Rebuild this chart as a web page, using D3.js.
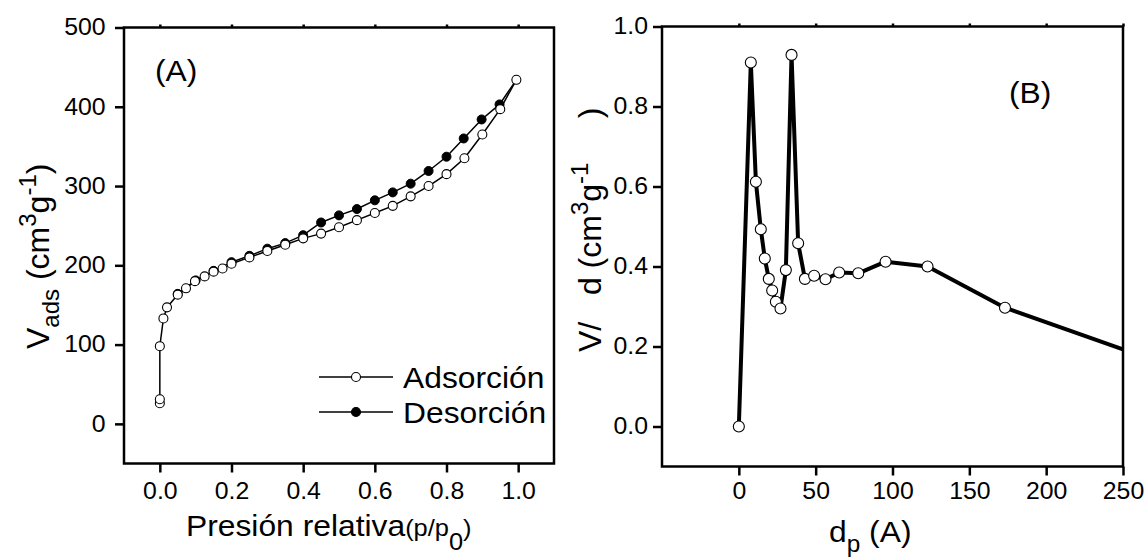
<!DOCTYPE html>
<html>
<head>
<meta charset="utf-8">
<script src="https://cdn.jsdelivr.net/npm/d3@7"></script>
<style>
  body { margin: 0; background: #fff; }
  text { font-family: Arial, "Liberation Sans", sans-serif; fill: #000; }
</style>
</head>
<body>
<svg id="chart" width="1146" height="557"></svg>
<script>
// (A) isoterma: presion relativa vs volumen adsorbido
const presAds = [0, 0, 0, 0.01, 0.02, 0.05, 0.073, 0.098, 0.125, 0.15, 0.175, 0.2, 0.25, 0.3, 0.35, 0.4, 0.45, 0.5, 0.55, 0.6, 0.65, 0.7, 0.75, 0.8, 0.85, 0.9, 0.95, 0.995]
const volAds = [26, 31, 98, 133, 147, 163, 171, 180, 186, 192, 196, 202, 210, 218, 226, 234, 240, 248, 257, 266, 275, 287, 300, 315, 335, 365, 397, 434]
const presDes = [0.995, 0.948, 0.898, 0.848, 0.8, 0.75, 0.7, 0.65, 0.6, 0.55, 0.5, 0.45, 0.4, 0.35, 0.3, 0.25, 0.2, 0.15, 0.1, 0.05]
const volDes = [434, 403, 384, 360, 337, 319, 303, 292, 282, 271, 263, 254, 238, 228, 221, 212, 204, 193, 181, 164]

// (B) distribucion de poros
const poreD = [0, 7.8, 11.1, 14.3, 16.9, 19.5, 21.7, 24.1, 27.1, 30.6, 34.3, 38.6, 43, 49, 56.4, 65.3, 77.7, 95.5, 122.8, 173.2, 250]
const poreV = [0, 0.91, 0.612, 0.493, 0.42, 0.369, 0.34, 0.312, 0.295, 0.391, 0.929, 0.458, 0.369, 0.377, 0.368, 0.385, 0.383, 0.412, 0.40, 0.297, 0.193]

const ticksAx = [0, 0.2, 0.4, 0.6, 0.8, 1.0]
const ticksAy = [0, 100, 200, 300, 400, 500]
const ticksBx = [0, 50, 100, 150, 200, 250]
const ticksBy = [0, 0.2, 0.4, 0.6, 0.8, 1.0]

const svg = d3.select('#chart')
const stretch = 1.06

// escalas
const xA = d3.scaleLinear().domain([-0.1, 1.1]).range([124, 554])
const yA = d3.scaleLinear().domain([-50, 500]).range([463.5, 27.5])
const xB = d3.scaleLinear().domain([-50, 250]).range([662, 1123])
const yB = d3.scaleLinear().domain([-0.1, 1.0]).range([466.5, 26.5])

function drawFrame(x, y, xt, yt, xfmt, yfmt, xPad, yPad) {
    const [x0, x1] = x.range()
    const [y0, y1] = y.range()
    let g = svg.append('g')
    // eje x abajo
    g.append('g').attr('transform', `translate(0,${y0})`)
        .call(d3.axisBottom(x).tickValues(xt).tickFormat(xfmt).tickSize(9).tickSizeOuter(0).tickPadding(xPad))
    // pequeños ticks arriba
    g.append('g').attr('transform', `translate(0,${y1})`)
        .call(d3.axisTop(x).tickValues(xt).tickFormat('').tickSize(3).tickSizeOuter(0))
    g.append('g').attr('transform', `translate(${x0},0)`)
        .call(d3.axisLeft(y).tickValues(yt).tickFormat(yfmt).tickSize(9).tickSizeOuter(0).tickPadding(yPad))
    g.selectAll('.domain').remove()
    g.selectAll('.tick line').attr('stroke', '#000').attr('stroke-width', 2.5)
    g.selectAll('.tick text').attr('font-size', 23).attr('font-family', 'Arial, "Liberation Sans", sans-serif')
        .attr('fill', '#000').attr('transform', `scale(1.08,1)`)
    g.append('rect')
        .attr('x', x0).attr('y', y1)
        .attr('width', x1 - x0).attr('height', y0 - y1)
        .attr('fill', 'none').attr('stroke', '#000').attr('stroke-width', 2.5)
}

drawFrame(xA, yA, ticksAx, ticksAy, d3.format('.1f'), d3.format('d'), 10, 8)
drawFrame(xB, yB, ticksBx, ticksBy, d3.format('d'), d3.format('.1f'), 7, 4)

// ---- panel A ----
const line = (x, y) => d3.line().x(d => x(d[0])).y(d => y(d[1]))
const desData = presDes.map((p, i) => [p, volDes[i]])
const adsData = presAds.map((p, i) => [p, volAds[i]])

let pa = svg.append('g')
pa.append('path').datum(desData).attr('d', line(xA, yA))
    .attr('fill', 'none').attr('stroke', '#000').attr('stroke-width', 1.5)
pa.append('path').datum(adsData).attr('d', line(xA, yA))
    .attr('fill', 'none').attr('stroke', '#000').attr('stroke-width', 1.5)
pa.selectAll('circle.des').data(desData.slice(1)).enter().append('circle')
    .attr('cx', d => xA(d[0])).attr('cy', d => yA(d[1])).attr('r', 4.5)
    .attr('fill', '#000').attr('stroke', '#000').attr('stroke-width', 1)
pa.selectAll('circle.ads').data(adsData).enter().append('circle')
    .attr('cx', d => xA(d[0])).attr('cy', d => yA(d[1])).attr('r', 4.5)
    .attr('fill', '#fff').attr('stroke', '#000').attr('stroke-width', 1.1)

// leyenda
const legend = [{ name: 'Adsorción', fill: '#fff', y: 377 }, { name: 'Desorción', fill: '#000', y: 412 }]
let lg = svg.append('g')
legend.forEach(l => {
    lg.append('line').attr('x1', 319).attr('x2', 393).attr('y1', l.y).attr('y2', l.y)
        .attr('stroke', '#000').attr('stroke-width', 1.5)
    lg.append('circle').attr('cx', 356).attr('cy', l.y).attr('r', 4.5)
        .attr('fill', l.fill).attr('stroke', '#000').attr('stroke-width', 1.1)
    lg.append('text').attr('transform', `translate(403,${l.y + 11}) scale(${stretch},1)`)
        .attr('font-size', 30).text(l.name)
})

svg.append('text').attr('transform', `translate(155,81) scale(${stretch},1)`)
    .attr('font-size', 30).text('(A)')

// ---- panel B ----
const poreData = poreD.map((d, i) => [d, poreV[i]])
let pb = svg.append('g')
pb.append('path').datum(poreData).attr('d', line(xB, yB))
    .attr('fill', 'none').attr('stroke', '#000').attr('stroke-width', 4).attr('stroke-linejoin', 'round')
pb.selectAll('circle').data(poreData.filter(d => d[0] < 250)).enter().append('circle')
    .attr('cx', d => xB(d[0])).attr('cy', d => yB(d[1])).attr('r', 5.5)
    .attr('fill', '#fff').attr('stroke', '#000').attr('stroke-width', 1.1)

svg.append('text').attr('transform', `translate(1009,103) scale(${stretch},1)`)
    .attr('font-size', 30).text('(B)')

// ---- titulos de ejes ----
let tA = svg.append('text').attr('transform', `translate(186,536) scale(${stretch},1)`).attr('font-size', 30)
tA.append('tspan').text('Presión relativa')
tA.append('tspan').attr('font-size', 24).text('(p/p')
tA.append('tspan').attr('font-size', 24).attr('dy', 14).text('0')
tA.append('tspan').attr('font-size', 24).attr('dy', -14).text(')')

let tB = svg.append('text').attr('transform', `translate(829,542) scale(${stretch},1)`).attr('font-size', 30)
tB.append('tspan').text('d')
tB.append('tspan').attr('font-size', 23).attr('dy', 10).text('p')
tB.append('tspan').attr('dy', -10).text(' (A)')

let yTA = svg.append('text').attr('transform', 'translate(49,349) rotate(-90)').attr('font-size', 32)
yTA.append('tspan').text('V')
yTA.append('tspan').attr('font-size', 24).attr('dy', 10).text('ads')
yTA.append('tspan').attr('dy', -10).text(' (cm')
yTA.append('tspan').attr('font-size', 24).attr('dy', -13).text('3')
yTA.append('tspan').attr('dy', 13).text('g')
yTA.append('tspan').attr('font-size', 24).attr('dy', -13).text('-1')
yTA.append('tspan').attr('dy', 13).text(')')

let yTB = svg.append('text').attr('transform', 'translate(601,352) rotate(-90)').attr('font-size', 32)
    .style('white-space', 'pre')
yTB.append('tspan').text('V/   d (cm')
yTB.append('tspan').attr('font-size', 24).attr('dy', -13).text('3')
yTB.append('tspan').attr('dy', 13).text('g')
yTB.append('tspan').attr('font-size', 24).attr('dy', -13).text('-1')
yTB.append('tspan').attr('dy', 13).text('     )')
</script>
</body>
</html>
